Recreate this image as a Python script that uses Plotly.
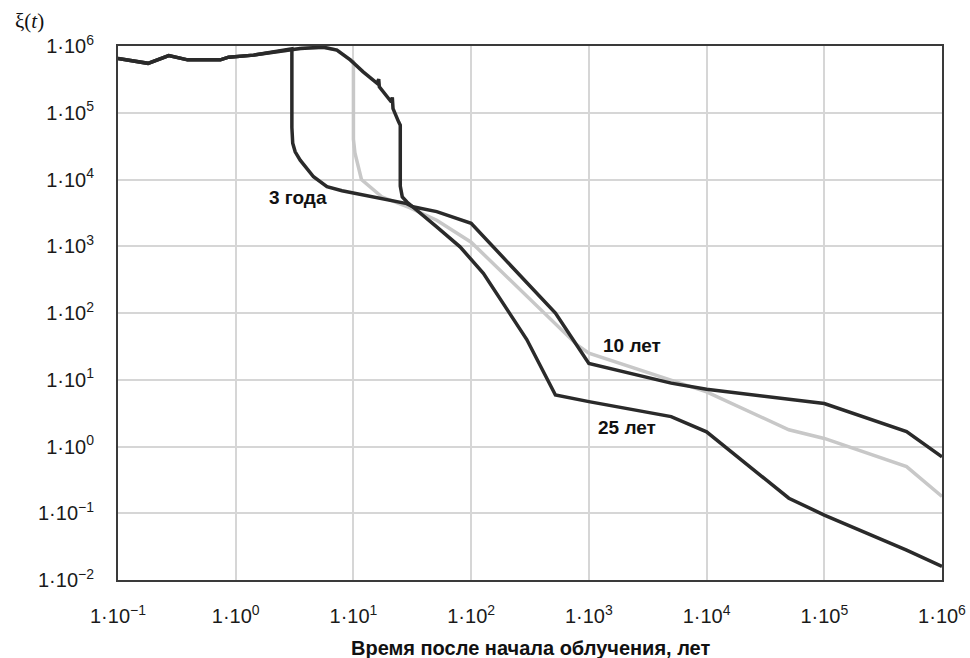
import plotly.graph_objects as go

# ---------------- data ----------------
shared_t = [0.1, 0.18, 0.27, 0.39, 0.74, 0.87, 1.42, 2.91]
shared_xi = [6.5e5, 5.5e5, 7.2e5, 6.2e5, 6.2e5, 6.8e5, 7.3e5, 8.9e5]

t_3 = shared_t + [3.0, 3.0, 3.05, 3.2, 3.53, 4.58, 5.96, 8.0, 12.2, 20, 28.4, 32,
                  51, 100, 520, 1000, 5000, 1e4, 5e4, 1e5, 5e5, 1e6]
xi_3 = shared_xi + [9.1e5, 6.0e4, 3.5e4, 2.6e4, 1.95e4, 1.1e4, 7.8e3, 6.8e3, 5.9e3,
                    5.0e3, 4.35e3, 3.9e3, 3.3e3, 2.2e3, 100, 17.6, 8.9, 7.2, 5.0,
                    4.4, 1.67, 0.70]

t_10 = shared_t + [3.53, 5.55, 7.24, 9.4, 10, 10, 10.3, 11.7, 17.4, 30, 51, 100,
                   800, 1000, 1e4, 5e4, 1e5, 5e5, 1e6]
xi_10 = shared_xi + [9.2e5, 9.6e5, 8.7e5, 6.2e5, 5.8e5, 4.0e4, 2.5e4, 1.0e4, 5.5e3,
                     3.8e3, 2.45e3, 1.15e3, 33, 25, 6.6, 1.78, 1.32, 0.5, 0.178]

t_25 = shared_t + [3.53, 5.55, 7.24, 9.4, 12.1, 15.9, 16.4, 16.6, 19.2, 21.0, 21.4,
                   21.7, 24.2, 25, 25, 26, 28.5, 32, 51, 80.5, 127, 297, 520, 1000,
                   5000, 1e4, 5e4, 1e5, 5e5, 1e6]
xi_25 = shared_xi + [9.2e5, 9.6e5, 8.7e5, 6.2e5, 4.1e5, 2.75e5, 3.2e5, 2.45e5,
                     1.74e5, 1.45e5, 1.7e5, 1.15e5, 7.3e4, 6.5e4, 8.0e3, 5.5e3,
                     4.6e3, 3.9e3, 1.95e3, 980, 394, 40, 5.9, 4.7, 2.8, 1.66, 0.168,
                     0.094, 0.028, 0.016]

x_tickvals = [1e-1, 1e0, 1e1, 1e2, 1e3, 1e4, 1e5, 1e6]
x_ticktext = ["1·10<sup>−1</sup>", "1·10<sup>0</sup>", "1·10<sup>1</sup>",
              "1·10<sup>2</sup>", "1·10<sup>3</sup>", "1·10<sup>4</sup>",
              "1·10<sup>5</sup>", "1·10<sup>6</sup>"]
y_tickvals = [1e-2, 1e-1, 1e0, 1e1, 1e2, 1e3, 1e4, 1e5, 1e6]
y_ticktext = ["1·10<sup>−2</sup>", "1·10<sup>−1</sup>", "1·10<sup>0</sup>",
              "1·10<sup>1</sup>", "1·10<sup>2</sup>", "1·10<sup>3</sup>",
              "1·10<sup>4</sup>", "1·10<sup>5</sup>", "1·10<sup>6</sup>"]

series_labels = ["3 года", "10 лет", "25 лет"]
x_title = "Время после начала облучения, лет"
y_title = "ξ(<i>t</i>)"

# ---------------- figure ----------------
DARK = "#2a2a2a"
LIGHT = "#c8c8c8"

fig = go.Figure()
fig.add_trace(go.Scatter(x=t_10, y=xi_10, mode="lines", name=series_labels[1],
                         line=dict(color=LIGHT, width=3.5)))
fig.add_trace(go.Scatter(x=t_25, y=xi_25, mode="lines", name=series_labels[2],
                         line=dict(color=DARK, width=3.5)))
fig.add_trace(go.Scatter(x=t_3, y=xi_3, mode="lines", name=series_labels[0],
                         line=dict(color=DARK, width=3.5)))

SANS = "Liberation Sans, Arial, sans-serif"
tick_font = dict(family=SANS, size=20, color="#1a1a1a")

fig.update_xaxes(type="log", range=[-1, 6], tickvals=x_tickvals, ticktext=x_ticktext,
                 tickfont=tick_font, showgrid=True, gridcolor="#d6d6d6", gridwidth=1.5,
                 showline=True, linecolor="#3a3a3a", linewidth=2, mirror=True,
                 ticks="outside", ticklen=17, tickcolor="rgba(0,0,0,0)",
                 zeroline=False)
fig.update_yaxes(type="log", range=[-2, 6], tickvals=y_tickvals, ticktext=y_ticktext,
                 tickfont=tick_font, showgrid=True, gridcolor="#d6d6d6", gridwidth=1.5,
                 showline=True, linecolor="#3a3a3a", linewidth=2, mirror=True,
                 ticks="outside", ticklen=18, tickcolor="rgba(0,0,0,0)",
                 zeroline=False)

label_font = dict(family=SANS, size=19, color="#111111")
annotations = [
    dict(x=0.531, y=3.723, xref="x", yref="y", text="<b>" + series_labels[0] + "</b>",
         showarrow=False, font=label_font),
    dict(x=3.365, y=1.506, xref="x", yref="y", text="<b>" + series_labels[1] + "</b>",
         showarrow=False, font=label_font),
    dict(x=3.323, y=0.292, xref="x", yref="y", text="<b>" + series_labels[2] + "</b>",
         showarrow=False, font=label_font),
    dict(x=0.5, y=-0.128, xref="paper", yref="paper", text="<b>" + x_title + "</b>",
         showarrow=False, xanchor="center", yanchor="middle",
         font=dict(family=SANS, size=20, color="#111111")),
    dict(x=-0.108, y=1.047, xref="paper", yref="paper", text=y_title,
         showarrow=False, xanchor="center", yanchor="middle",
         font=dict(family="Liberation Serif, Times New Roman, serif", size=21, color="#111111")),
]

fig.update_layout(
    width=970, height=658,
    margin=dict(l=117.5, r=27.5, t=46, b=78, autoexpand=False),
    paper_bgcolor="white", plot_bgcolor="white",
    showlegend=False,
    annotations=annotations,
)

fig.write_html(
    "out.html",
    config={"displayModeBar": False},
    post_script="document.body.style.margin='0';document.body.style.padding='0';"
                "document.body.style.overflow='hidden';",
)
